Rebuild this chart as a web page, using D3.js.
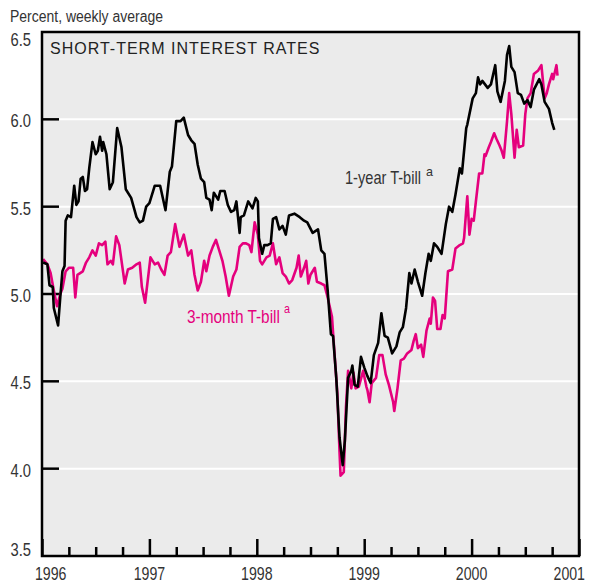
<!DOCTYPE html>
<html>
<head>
<meta charset="utf-8">
<script src="https://cdn.jsdelivr.net/npm/d3@7"></script>
<style>
  body { margin: 0; background: #fff; }
  svg { display: block; }
  text { font-family: "Liberation Sans", Arial, sans-serif; fill: #333; }
</style>
</head>
<body>
<div id="chart-area"></div>
<script>
// weekly averages (dates as decimal years)
let oneYearDates = [1996.01, 1996.05, 1996.07, 1996.10, 1996.11, 1996.15, 1996.17, 1996.19, 1996.21, 1996.22,
  1996.24, 1996.27, 1996.30, 1996.32, 1996.34, 1996.36, 1996.38, 1996.40, 1996.42, 1996.44,
  1996.47, 1996.50, 1996.52, 1996.54, 1996.56, 1996.57, 1996.60, 1996.63, 1996.66, 1996.70,
  1996.74, 1996.78, 1996.83, 1996.88, 1996.91, 1996.94, 1996.97, 1997.00, 1997.05, 1997.10,
  1997.15, 1997.19, 1997.21, 1997.25, 1997.29, 1997.32, 1997.36, 1997.39, 1997.42, 1997.45,
  1997.48, 1997.51, 1997.53, 1997.56, 1997.58, 1997.60, 1997.64, 1997.66, 1997.70, 1997.73,
  1997.76, 1997.79, 1997.81, 1997.84, 1997.85, 1997.88, 1997.92, 1997.96, 1997.99, 1998.01,
  1998.02, 1998.05, 1998.07, 1998.10, 1998.13, 1998.15, 1998.18, 1998.21, 1998.24, 1998.27,
  1998.30, 1998.35, 1998.40, 1998.44, 1998.47, 1998.52, 1998.57, 1998.60, 1998.63, 1998.66,
  1998.69, 1998.71, 1998.74, 1998.77, 1998.80, 1998.82, 1998.85, 1998.88, 1998.89, 1998.91,
  1998.94, 1998.97, 1999.00, 1999.03, 1999.06, 1999.09, 1999.13, 1999.16, 1999.19, 1999.22,
  1999.26, 1999.30, 1999.33, 1999.36, 1999.39, 1999.42, 1999.44, 1999.47, 1999.50, 1999.54,
  1999.57, 1999.60, 1999.62, 1999.65, 1999.68, 1999.72, 1999.76, 1999.79, 1999.82, 1999.85,
  1999.89, 1999.91, 1999.95, 1999.96, 2000.01, 2000.04, 2000.06, 2000.08, 2000.10, 2000.15,
  2000.18, 2000.22, 2000.24, 2000.27, 2000.31, 2000.33, 2000.35, 2000.37, 2000.40, 2000.43,
  2000.46, 2000.49, 2000.52, 2000.55, 2000.58, 2000.63, 2000.65, 2000.68, 2000.72, 2000.75,
  2000.77];
let oneYearRates = [5.18, 5.17, 5.05, 5.04, 4.92, 4.82, 4.98, 5.13, 5.16, 5.42,
  5.45, 5.44, 5.62, 5.51, 5.53, 5.66, 5.67, 5.59, 5.60, 5.72,
  5.87, 5.80, 5.82, 5.90, 5.82, 5.87, 5.80, 5.60, 5.64, 5.95,
  5.84, 5.60, 5.55, 5.44, 5.41, 5.42, 5.50, 5.52, 5.62, 5.62,
  5.48, 5.70, 5.73, 5.99, 5.99, 6.01, 5.91, 5.88, 5.86, 5.74,
  5.66, 5.64, 5.55, 5.54, 5.48, 5.58, 5.54, 5.59, 5.59, 5.51,
  5.47, 5.48, 5.53, 5.35, 5.44, 5.45, 5.53, 5.49, 5.55, 5.53,
  5.32, 5.23, 5.28, 5.28, 5.29, 5.43, 5.44, 5.37, 5.39, 5.34,
  5.45, 5.46, 5.44, 5.42, 5.41, 5.35, 5.37, 5.25, 5.23, 5.02,
  4.77, 4.76, 4.52, 4.18, 4.02, 4.16, 4.52, 4.56, 4.59, 4.48,
  4.47, 4.64, 4.58, 4.53, 4.49, 4.65, 4.72, 4.89, 4.76, 4.75,
  4.66, 4.70, 4.78, 4.81, 4.92, 5.12, 5.06, 5.14, 5.07, 4.99,
  5.12, 5.23, 5.19, 5.29, 5.27, 5.23, 5.40, 5.50, 5.47, 5.57,
  5.72, 5.69, 5.95, 5.97, 6.12, 6.15, 6.24, 6.20, 6.22, 6.18,
  6.20, 6.31, 6.16, 6.10, 6.22, 6.37, 6.42, 6.30, 6.27, 6.15,
  6.14, 6.09, 6.11, 6.07, 6.17, 6.23, 6.20, 6.10, 6.06, 5.98,
  5.94];

let threeMonthDates = [1996.01, 1996.05, 1996.08, 1996.11, 1996.14, 1996.17, 1996.19, 1996.22, 1996.25, 1996.29,
  1996.31, 1996.33, 1996.38, 1996.41, 1996.44, 1996.47, 1996.50, 1996.53, 1996.56, 1996.59,
  1996.61, 1996.64, 1996.66, 1996.69, 1996.72, 1996.77, 1996.80, 1996.84, 1996.88, 1996.91,
  1996.93, 1996.96, 1997.01, 1997.05, 1997.08, 1997.11, 1997.14, 1997.17, 1997.20, 1997.24,
  1997.28, 1997.32, 1997.36, 1997.39, 1997.42, 1997.45, 1997.48, 1997.51, 1997.53, 1997.56,
  1997.59, 1997.62, 1997.65, 1997.68, 1997.71, 1997.74, 1997.78, 1997.81, 1997.84, 1997.87,
  1997.90, 1997.93, 1997.95, 1997.98, 1998.01, 1998.03, 1998.05, 1998.09, 1998.12, 1998.15,
  1998.18, 1998.21, 1998.24, 1998.27, 1998.30, 1998.33, 1998.37, 1998.39, 1998.41, 1998.44,
  1998.46, 1998.48, 1998.50, 1998.54, 1998.56, 1998.60, 1998.63, 1998.66, 1998.70, 1998.72,
  1998.75, 1998.77, 1998.78, 1998.81, 1998.83, 1998.85, 1998.88, 1998.90, 1998.92, 1998.95,
  1998.99, 1999.02, 1999.03, 1999.05, 1999.07, 1999.11, 1999.14, 1999.17, 1999.20, 1999.23,
  1999.27, 1999.28, 1999.31, 1999.34, 1999.37, 1999.40, 1999.44, 1999.46, 1999.48, 1999.50,
  1999.53, 1999.55, 1999.58, 1999.61, 1999.62, 1999.64, 1999.66, 1999.68, 1999.71, 1999.73,
  1999.75, 1999.78, 1999.82, 1999.85, 1999.89, 1999.92, 1999.93, 1999.96, 1999.98, 2000.00,
  2000.02, 2000.04, 2000.07, 2000.10, 2000.12, 2000.13, 2000.16, 2000.18, 2000.21, 2000.23,
  2000.26, 2000.28, 2000.30, 2000.33, 2000.35, 2000.37, 2000.40, 2000.42, 2000.44, 2000.48,
  2000.50, 2000.52, 2000.55, 2000.58, 2000.62, 2000.65, 2000.68, 2000.70, 2000.72, 2000.75,
  2000.76, 2000.79, 2000.80];
let threeMonthRates = [5.20, 5.17, 5.12, 5.02, 4.93, 5.00, 5.03, 5.13, 5.15, 5.15,
  4.98, 5.11, 5.13, 5.18, 5.21, 5.25, 5.22, 5.29, 5.28, 5.30,
  5.17, 5.19, 5.17, 5.33, 5.28, 5.06, 5.14, 5.15, 5.17, 5.18,
  5.04, 4.95, 5.21, 5.17, 5.18, 5.14, 5.11, 5.22, 5.24, 5.40,
  5.27, 5.34, 5.22, 5.25, 5.11, 5.02, 5.07, 5.19, 5.13, 5.22,
  5.27, 5.31, 5.25, 5.19, 5.10, 4.99, 5.10, 5.14, 5.27, 5.29,
  5.29, 5.28, 5.24, 5.41, 5.34, 5.19, 5.17, 5.21, 5.22, 5.29,
  5.17, 5.21, 5.12, 5.10, 5.06, 5.08, 5.15, 5.22, 5.10, 5.15,
  5.19, 5.06, 5.11, 5.15, 5.07, 5.06, 5.05, 4.98, 4.87, 4.69,
  4.43, 4.10, 3.96, 3.98, 4.35, 4.56, 4.46, 4.55, 4.46, 4.47,
  4.56, 4.47, 4.45, 4.38, 4.49, 4.52, 4.65, 4.65, 4.54, 4.48,
  4.38, 4.33, 4.46, 4.62, 4.63, 4.66, 4.68, 4.73, 4.77, 4.69,
  4.71, 4.64, 4.79, 4.86, 4.83, 4.98, 4.96, 4.80, 4.80, 4.88,
  4.86, 5.13, 5.14, 5.26, 5.28, 5.29, 5.32, 5.56, 5.34, 5.43,
  5.42, 5.53, 5.69, 5.69, 5.80, 5.79, 5.84, 5.87, 5.92, 5.89,
  5.85, 5.82, 5.78, 5.99, 6.15, 6.03, 5.78, 5.94, 5.84, 5.85,
  6.03, 6.12, 6.15, 6.26, 6.28, 6.31, 6.12, 6.15, 6.20, 6.26,
  6.23, 6.31, 6.25];

let yearTicks = [1996, 1997, 1998, 1999, 2000, 2001];
let quarterTicks = [1996.25, 1996.5, 1996.75, 1997.25, 1997.5, 1997.75, 1998.25, 1998.5, 1998.75,
  1999.25, 1999.5, 1999.75, 2000.25, 2000.5, 2000.75];
let rateTicks = [3.5, 4.0, 4.5, 5.0, 5.5, 6.0, 6.5];
let gridTicks = [4.0, 4.5, 5.0, 5.5, 6.0];

let width = 589, height = 584;
let plot = { left: 42, right: 579, top: 32, bottom: 556 };
let pink = '#e5007d';

let svg = d3.select('#chart-area').append('svg')
  .attr('width', width)
  .attr('height', height);

let x = d3.scaleLinear()
  .domain([1996, 2001])
  .range([plot.left, plot.right]);

let y = d3.scaleLinear()
  .domain([3.5, 6.5])
  .range([plot.bottom, plot.top]);

// the reference uses a condensed face: draw at (px, py) and squeeze to a width
function narrowText(parent, str, px, py, w, size, anchor) {
  let t = parent.append('text')
    .attr('text-anchor', anchor || 'start')
    .style('font-size', size + 'px')
    .text(str);
  let s = w / t.node().getComputedTextLength();
  t.attr('transform', `translate(${px}, ${py}) scale(${s}, 1)`);
  return t;
}

// plot background
svg.append('rect')
  .attr('x', plot.left)
  .attr('y', plot.top)
  .attr('width', plot.right - plot.left)
  .attr('height', plot.bottom - plot.top)
  .attr('fill', '#ebebeb');

// white gridlines
svg.selectAll('.grid')
  .data(gridTicks)
  .enter()
  .append('line')
  .attr('class', 'grid')
  .attr('x1', plot.left)
  .attr('x2', plot.right)
  .attr('y1', d => y(d))
  .attr('y2', d => y(d))
  .attr('stroke', '#fff')
  .attr('stroke-width', 2);

// short ticks on the left
svg.selectAll('.ytick')
  .data(gridTicks)
  .enter()
  .append('line')
  .attr('class', 'ytick')
  .attr('x1', plot.left)
  .attr('x2', plot.left + 17)
  .attr('y1', d => y(d))
  .attr('y2', d => y(d))
  .attr('stroke', '#000')
  .attr('stroke-width', 2.5);

// bottom ticks pointing up
let majorAxis = d3.axisBottom(x)
  .tickValues(yearTicks)
  .tickSizeInner(-17)
  .tickSizeOuter(0)
  .tickFormat('');
let minorAxis = d3.axisBottom(x)
  .tickValues(quarterTicks)
  .tickSizeInner(-9)
  .tickSizeOuter(0)
  .tickFormat('');

[majorAxis, minorAxis].forEach(ax => {
  let g = svg.append('g')
    .attr('transform', `translate(0, ${plot.bottom})`)
    .call(ax);
  g.select('.domain').remove();
  g.selectAll('line').attr('stroke', '#000').attr('stroke-width', 2.5);
});

// year labels
let last = yearTicks.length - 1;
yearTicks.forEach((d, i) => {
  let px = i == 0 ? 35 : (i == last ? 585 : x(d));
  let anchor = i == 0 ? 'start' : (i == last ? 'end' : 'middle');
  narrowText(svg, d, px, 580, 31.5, 18, anchor);
});

// rate labels
rateTicks.forEach(d => {
  let py = y(d) + 8;
  if (d == 6.5) py = y(d) + 14;
  if (d == 3.5) py = y(d);
  narrowText(svg, d.toFixed(1), 31, py, 20.5, 18, 'end');
});

// lines
let oneYear = oneYearDates.map((d, i) => ({ date: d, rate: oneYearRates[i] }));
let threeMonth = threeMonthDates.map((d, i) => ({ date: d, rate: threeMonthRates[i] }));

let line = d3.line()
  .x(d => x(d.date))
  .y(d => y(d.rate));

svg.append('path')
  .datum(threeMonth)
  .attr('d', line)
  .attr('fill', 'none')
  .attr('stroke', pink)
  .attr('stroke-width', 2.6)
  .attr('stroke-linejoin', 'round');

svg.append('path')
  .datum(oneYear)
  .attr('d', line)
  .attr('fill', 'none')
  .attr('stroke', '#000')
  .attr('stroke-width', 2.6)
  .attr('stroke-linejoin', 'round');

// frame
svg.append('rect')
  .attr('x', plot.left)
  .attr('y', plot.top)
  .attr('width', plot.right - plot.left)
  .attr('height', plot.bottom - plot.top)
  .attr('fill', 'none')
  .attr('stroke', '#000')
  .attr('stroke-width', 2.5);

// titles
narrowText(svg, 'Percent, weekly average', 10, 22, 153, 16);

svg.append('text')
  .attr('x', 50)
  .attr('y', 54)
  .style('font-size', '16px')
  .style('letter-spacing', '1px')
  .style('fill', '#222')
  .text('SHORT-TERM INTEREST RATES');

// series labels
narrowText(svg, '1-year T-bill', 345, 184, 76, 17.5);
narrowText(svg, 'a', 426, 176, 7, 12);

narrowText(svg, '3-month T-bill', 187, 322.5, 93, 17.5).style('fill', pink);
narrowText(svg, 'a', 284, 313, 6, 12).style('fill', pink);
</script>
</body>
</html>
